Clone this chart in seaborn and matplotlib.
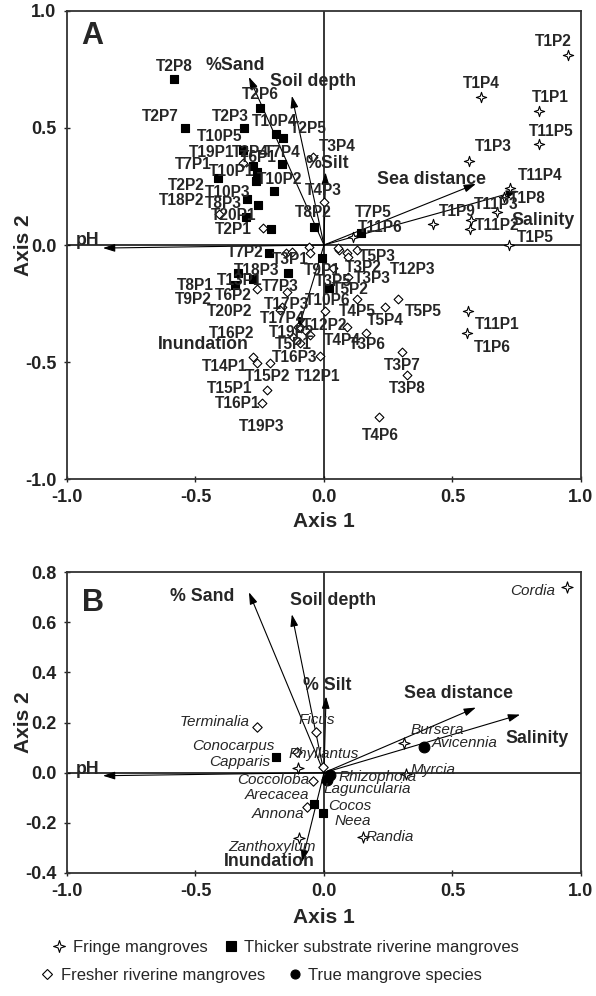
import matplotlib
matplotlib.use('Agg')
import matplotlib.pyplot as plt
from matplotlib.path import Path
from matplotlib.lines import Line2D
from matplotlib.ticker import FormatStrFormatter
import seaborn as sns

# ---------------- panel A : site scores ----------------
fringe_a_x = [0.949, 0.611, 0.837, 0.837, 0.564, 0.724, 0.700, 0.673, 0.424, 0.572, 0.568, 0.720, 0.560, 0.556, 0.113]
fringe_a_y = [0.812, 0.632, 0.573, 0.432, 0.359, 0.244, 0.205, 0.141, 0.090, 0.107, 0.068, 0.000, -0.282, -0.376, 0.034]

thick_a_x = [-0.584, -0.249, -0.541, -0.311, -0.187, -0.160, -0.315, -0.276, -0.261, -0.163, -0.412, -0.265, -0.195,
             -0.300, -0.257, -0.304, -0.206, -0.039, 0.144, -0.214, -0.335, -0.276, -0.346, -0.140, -0.008, 0.019]
thick_a_y = [0.709, 0.585, 0.500, 0.500, 0.474, 0.457, 0.406, 0.338, 0.312, 0.346, 0.286, 0.274, 0.231,
             0.197, 0.171, 0.120, 0.068, 0.077, 0.051, -0.034, -0.120, -0.145, -0.171, -0.120, -0.056, -0.184]

fresh_a_x = [-0.043, -0.409, -0.237, -0.315, 0.000, -0.148, -0.125, -0.058, -0.054, 0.058, 0.089, 0.093, 0.128, 0.035,
             0.093, -0.261, -0.144, -0.163, -0.171, 0.004, 0.128, 0.288, 0.237, 0.089, 0.163, -0.016, 0.304, 0.323,
             0.214, -0.276, -0.261, -0.210, -0.222, -0.241, -0.101, -0.089, -0.074, -0.054, -0.093, -0.121, 0.054]
fresh_a_y = [0.376, 0.132, 0.073, 0.350, 0.184, -0.034, -0.030, -0.009, -0.034, -0.021, -0.034, -0.051, -0.021, -0.098,
             -0.137, -0.188, -0.201, -0.265, -0.278, -0.282, -0.231, -0.231, -0.265, -0.350, -0.376, -0.474, -0.457, -0.556,
             -0.735, -0.479, -0.504, -0.504, -0.620, -0.675, -0.350, -0.355, -0.363, -0.385, -0.419, -0.393, -0.013]

site_names = ['T2P8', 'T2P6', 'T2P7', 'T2P3', 'T10P4', 'T2P5', 'T3P4', 'T10P5', 'T19P1', 'T2P4', 'T6P1', 'T7P4',
              'T7P1', 'T10P1', 'T10P2', 'T2P2', 'T10P3', 'T4P3', 'T18P2', 'T8P3', 'T20P1', 'T8P2', 'T2P1',
              'T1P2', 'T1P4', 'T1P1', 'T11P5', 'T1P3', 'T11P4', 'T1P8', 'T11P3', 'T1P9', 'T7P5', 'T11P2', 'T11P6', 'T1P5',
              'T7P2', 'T3P1', 'T18P3', 'T9P1', 'T13P1', 'T8P1', 'T6P2', 'T9P2', 'T7P3', 'T20P2', 'T17P3', 'T10P6',
              'T17P4', 'T16P2', 'T12P2', 'T19P2', 'T5P1', 'T4P4', 'T16P3', 'T14P1', 'T15P2', 'T12P1', 'T15P1', 'T16P1',
              'T19P3', 'T5P3', 'T3P2', 'T12P3', 'T3P3', 'T3P5', 'T5P2', 'T4P5', 'T5P5', 'T5P4', 'T11P1', 'T3P6', 'T1P6',
              'T3P7', 'T3P8', 'T4P6']
site_lab_x = [-0.584, -0.249, -0.638, -0.366, -0.191, -0.062, 0.050, -0.405, -0.436, -0.288, -0.257, -0.163,
              -0.510, -0.358, -0.171, -0.537, -0.374, -0.004, -0.553, -0.393, -0.350, -0.043, -0.354,
              0.891, 0.611, 0.879, 0.883, 0.658, 0.840, 0.790, 0.669, 0.518, 0.191, 0.673, 0.218, 0.821,
              -0.307, -0.132, -0.261, -0.008, -0.327, -0.502, -0.354, -0.510, -0.171, -0.366, -0.144, 0.016,
              -0.163, -0.358, 0.004, -0.125, -0.121, 0.070, -0.113, -0.385, -0.218, -0.023, -0.366, -0.335,
              -0.241, 0.206, 0.152, 0.346, 0.187, 0.035, 0.101, 0.128, 0.385, 0.237, 0.673, 0.167, 0.654,
              0.304, 0.323, 0.218]
site_lab_y = [0.761, 0.641, 0.551, 0.547, 0.526, 0.496, 0.423, 0.462, 0.397, 0.397, 0.372, 0.397,
              0.346, 0.316, 0.282, 0.256, 0.226, 0.235, 0.192, 0.179, 0.128, 0.137, 0.068,
              0.868, 0.688, 0.632, 0.487, 0.419, 0.295, 0.197, 0.175, 0.145, 0.141, 0.085, 0.073, 0.034,
              -0.034, -0.064, -0.107, -0.111, -0.150, -0.171, -0.214, -0.231, -0.179, -0.286, -0.256, -0.239,
              -0.312, -0.376, -0.342, -0.372, -0.423, -0.406, -0.479, -0.517, -0.560, -0.560, -0.611, -0.675,
              -0.774, -0.051, -0.094, -0.103, -0.141, -0.158, -0.192, -0.286, -0.286, -0.321, -0.338, -0.427, -0.436,
              -0.513, -0.611, -0.812]

# environmental vectors, panel A
env_a_names = ['pH', '%Sand', 'Soil depth', '%Silt', 'Sea distance', 'Salinity', 'Inundation']
env_a_x = [-0.860, -0.292, -0.125, 0.006, 0.591, 0.755, -0.100]
env_a_y = [-0.013, 0.718, 0.637, 0.310, 0.261, 0.231, -0.360]
env_a_lab_x = [-0.918, -0.346, -0.041, 0.011, 0.420, 0.852, -0.471]
env_a_lab_y = [0.021, 0.765, 0.697, 0.350, 0.282, 0.103, -0.423]

# ---------------- panel B : species scores ----------------
species = ['Cordia', 'Terminalia', 'Ficus', 'Conocarpus', 'Phyllantus', 'Capparis', 'Coccoloba', 'Arecacea',
           'Annona', 'Cocos', 'Neea', 'Zanthoxylum', 'Rhizophora', 'Laguncularia', 'Myrcia', 'Bursera',
           'Avicennia', 'Randia']
species_group = ['fringe', 'fresh', 'fresh', 'thick', 'fresh', 'fringe', 'fresh', 'thick',
                 'fresh', 'thick', 'fresh', 'fringe', 'true', 'true', 'fringe', 'fringe', 'true', 'fringe']
species_x = [0.945, -0.261, -0.031, -0.187, -0.105, -0.101, -0.043, -0.039, -0.066, -0.004, -0.004, -0.097,
             0.023, 0.012, 0.319, 0.311, 0.389, 0.152]
species_y = [0.740, 0.184, 0.164, 0.064, 0.084, 0.020, -0.032, -0.124, -0.136, -0.160, 0.024, -0.260,
             -0.008, -0.028, -0.004, 0.120, 0.104, -0.256]
species_lab_x = [0.813, -0.424, -0.027, -0.354, 0.000, -0.327, -0.198, -0.183, -0.179, 0.101, 0.113, -0.202,
                 0.210, 0.167, 0.424, 0.440, 0.549, 0.257]
species_lab_y = [0.724, 0.204, 0.212, 0.108, 0.076, 0.044, -0.028, -0.088, -0.164, -0.132, -0.192, -0.296,
                 -0.016, -0.064, 0.012, 0.172, 0.120, -0.256]

env_b_names = ['pH', '% Sand', 'Soil depth', '% Silt', 'Sea distance', 'Salinity', 'Inundation']
env_b_x = [-0.860, -0.292, -0.125, 0.008, 0.591, 0.763, -0.086]
env_b_y = [-0.012, 0.720, 0.632, 0.304, 0.260, 0.232, -0.356]
env_b_lab_x = [-0.918, -0.475, 0.035, 0.012, 0.525, 0.829, -0.214]
env_b_lab_y = [0.012, 0.704, 0.688, 0.348, 0.316, 0.136, -0.356]

group_labels = {'fringe': 'Fringe mangroves', 'thick': 'Thicker substrate riverine mangroves',
                'fresh': 'Fresher riverine mangroves', 'true': 'True mangrove species'}

# ---------------- styling ----------------
sns.set_style('ticks')
plt.rcParams['font.family'] = ['Liberation Sans', 'DejaVu Sans']
plt.rcParams['font.weight'] = 'bold'
plt.rcParams['axes.unicode_minus'] = False

star = Path([(0, 1), (0.24, 0.24), (1, 0), (0.24, -0.24), (0, -1), (-0.24, -0.24), (-1, 0), (-0.24, 0.24), (0, 1)],
            closed=True)
marker_style = {'fringe': dict(marker=star, color='white'),
                'thick': dict(marker='s', color='black'),
                'fresh': dict(marker='D', color='white'),
                'true': dict(marker='o', color='black')}
size_a = {'fringe': 55, 'thick': 26, 'fresh': 20, 'true': 50}
size_b = {'fringe': 65, 'thick': 30, 'fresh': 23, 'true': 60}
legend_ms = {'fringe': 8.5, 'thick': 6.5, 'fresh': 5, 'true': 6.5}


def frame(ax, yticks, ylim):
    ax.axhline(0, color='black', lw=1.1, zorder=1)
    ax.axvline(0, color='black', lw=1.1, zorder=1)
    ax.set_xlim(-1, 1)
    ax.set_ylim(*ylim)
    ax.set_xticks([-1, -0.5, 0, 0.5, 1])
    ax.set_yticks(yticks)
    ax.xaxis.set_major_formatter(FormatStrFormatter('%.1f'))
    ax.yaxis.set_major_formatter(FormatStrFormatter('%.1f'))
    ax.tick_params(direction='inout', length=5, width=1, labelsize=13, pad=5, colors='#222222')
    for s in ax.spines.values():
        s.set_visible(True)
        s.set_linewidth(1.3)
        s.set_color('#333333')
    ax.set_xlabel('Axis 1', fontsize=15, fontweight='bold')
    ax.set_ylabel('Axis 2', fontsize=15, fontweight='bold')
    ax.yaxis.set_label_coords(-0.066, 0.5)


def arrows(ax, xs, ys, names, lx, ly):
    for x, y, n, tx, ty in zip(xs, ys, names, lx, ly):
        ax.annotate('', xy=(x, y), xytext=(0, 0),
                    arrowprops=dict(arrowstyle='-|>,head_length=0.55,head_width=0.18', color='black',
                                    lw=0.8, shrinkA=0, shrinkB=0, mutation_scale=13), zorder=2)
        ax.text(tx, ty, n, fontsize=12.8, fontweight='bold', ha='center', va='center', zorder=5)


fig = plt.figure(figsize=(5.96, 9.96), dpi=100)
axA = fig.add_axes([0.1124, 0.519, 0.8624, 0.470])
axB = fig.add_axes([0.1124, 0.1235, 0.8624, 0.302])

# ---- panel A ----
frame(axA, [-1, -0.5, 0, 0.5, 1], (-1, 1))
axA.xaxis.set_label_coords(0.5, -0.07)
arrows(axA, env_a_x, env_a_y, env_a_names, env_a_lab_x, env_a_lab_y)
for g, xs, ys in [('fresh', fresh_a_x, fresh_a_y), ('thick', thick_a_x, thick_a_y),
                  ('fringe', fringe_a_x, fringe_a_y)]:
    sns.scatterplot(x=xs, y=ys, ax=axA, s=size_a[g], edgecolor='black', linewidth=0.8,
                    zorder=3, **marker_style[g])
for n, x, y in zip(site_names, site_lab_x, site_lab_y):
    axA.text(x, y, n, fontsize=11.2, fontweight='bold', ha='center', va='center', zorder=4)
axA.text(0.05, 0.947, 'A', transform=axA.transAxes, fontsize=22, fontweight='bold', ha='center', va='center')

# ---- panel B ----
frame(axB, [-0.4, -0.2, 0, 0.2, 0.4, 0.6, 0.8], (-0.4, 0.8))
axB.xaxis.set_label_coords(0.5, -0.115)
arrows(axB, env_b_x, env_b_y, env_b_names, env_b_lab_x, env_b_lab_y)
for g in ['fresh', 'thick', 'fringe', 'true']:
    xs = [x for x, gg in zip(species_x, species_group) if gg == g]
    ys = [y for y, gg in zip(species_y, species_group) if gg == g]
    sns.scatterplot(x=xs, y=ys, ax=axB, s=size_b[g], edgecolor='black', linewidth=0.8,
                    zorder=3, **marker_style[g])
for n, x, y in zip(species, species_lab_x, species_lab_y):
    axB.text(x, y, n, fontsize=11, fontweight='normal', style='italic', ha='center', va='center', zorder=4)
axB.text(0.05, 0.897, 'B', transform=axB.transAxes, fontsize=22, fontweight='bold', ha='center', va='center')

# ---- legend rows ----
def handle(g):
    st = marker_style[g]
    return Line2D([], [], ls='none', marker=st['marker'], markersize=legend_ms[g],
                  markerfacecolor=st['color'], markeredgecolor='black', markeredgewidth=0.8,
                  label=group_labels[g])

leg_font = {'family': ['Liberation Sans', 'DejaVu Sans'], 'weight': 'normal', 'size': 12}
fig.legend(handles=[handle('fringe'), handle('thick')], ncol=2, loc='center', bbox_to_anchor=(0.478, 0.049),
           frameon=False, prop=leg_font, handletextpad=0.3, columnspacing=0.9, handlelength=1.0)
fig.legend(handles=[handle('fresh'), handle('true')], ncol=2, loc='center', bbox_to_anchor=(0.437, 0.021),
           frameon=False, prop=leg_font, handletextpad=0.3, columnspacing=1.3, handlelength=1.0)

fig.savefig('out.png', dpi=100)
